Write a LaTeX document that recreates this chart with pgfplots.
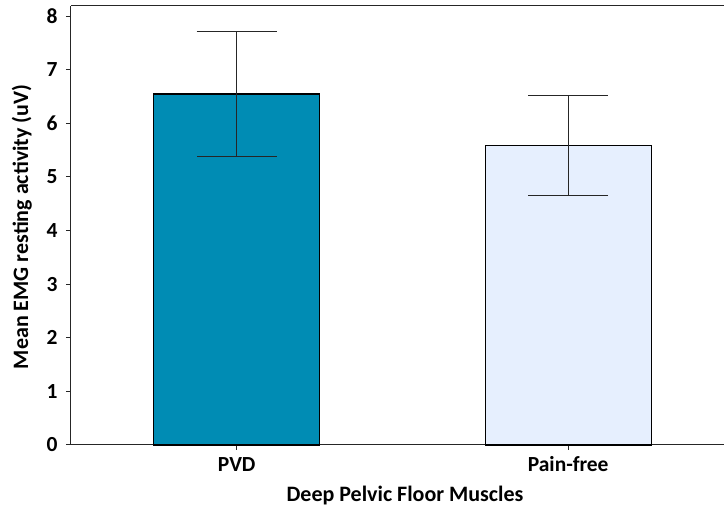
\documentclass[border=0pt]{standalone}
\usepackage{pgfplots}
\pgfplotsset{compat=1.18}
\usepackage{fontspec}
\setmainfont{Carlito}
\definecolor{pvd}{HTML}{008CB4}
\definecolor{painfree}{HTML}{E6EFFE}
\begin{document}
\fontsize{22}{25}\selectfont\bfseries
\begin{tikzpicture}
\begin{axis}[
  scale only axis,
  width=653pt, height=439pt,
  xmin=-0.5, xmax=1.47,
  ymin=0, ymax=8.19,
  separate axis lines,
  axis x line*=box,
  axis y line*=left,
  axis line style={line width=1pt, color=black!85},
  tick pos=left,
  tick align=outside,
  major tick length=5pt,
  tick style={line width=1pt, color=black!85},
  xtick={0,1},
  xticklabels={PVD,Pain-free},
  ytick={0,1,...,8},
  /pgf/number format/assume math mode=true,
  ticklabel style={font=\fontsize{21.5}{24}\selectfont\bfseries},
  yticklabel style={anchor=east, xshift=-1pt},
  xticklabel style={anchor=base, yshift=-22pt},
  xlabel={Deep Pelvic Floor Muscles},
  ylabel={Mean EMG resting activity (uV)},
  label style={font=\fontsize{22}{25}\selectfont\bfseries},
  xlabel style={at={(axis description cs:0.5115,-0.1276)}, anchor=base},
  ylabel style={at={(axis description cs:-0.0658,0.497)}, anchor=base},
  clip=false,
]
\addplot[ybar, bar width=166pt, bar shift=0pt, fill=pvd, draw=black, line width=1.4pt,
  error bars/.cd, y dir=both, y explicit,
  error bar style={line width=1.3pt, color=black!85},
  error mark options={rotate=90, mark size=40pt, line width=1.3pt, color=black!85}]
  coordinates {(0,6.55) +- (0,1.17)};
\addplot[ybar, bar width=166pt, bar shift=0pt, fill=painfree, draw=black, line width=1.4pt,
  error bars/.cd, y dir=both, y explicit,
  error bar style={line width=1.3pt, color=black!85},
  error mark options={rotate=90, mark size=40pt, line width=1.3pt, color=black!85}]
  coordinates {(1,5.59) +- (0,0.93)};
\end{axis}
\pgfresetboundingbox
\path (-71pt,-66pt) rectangle (653pt,445pt);
\end{tikzpicture}
\end{document}
